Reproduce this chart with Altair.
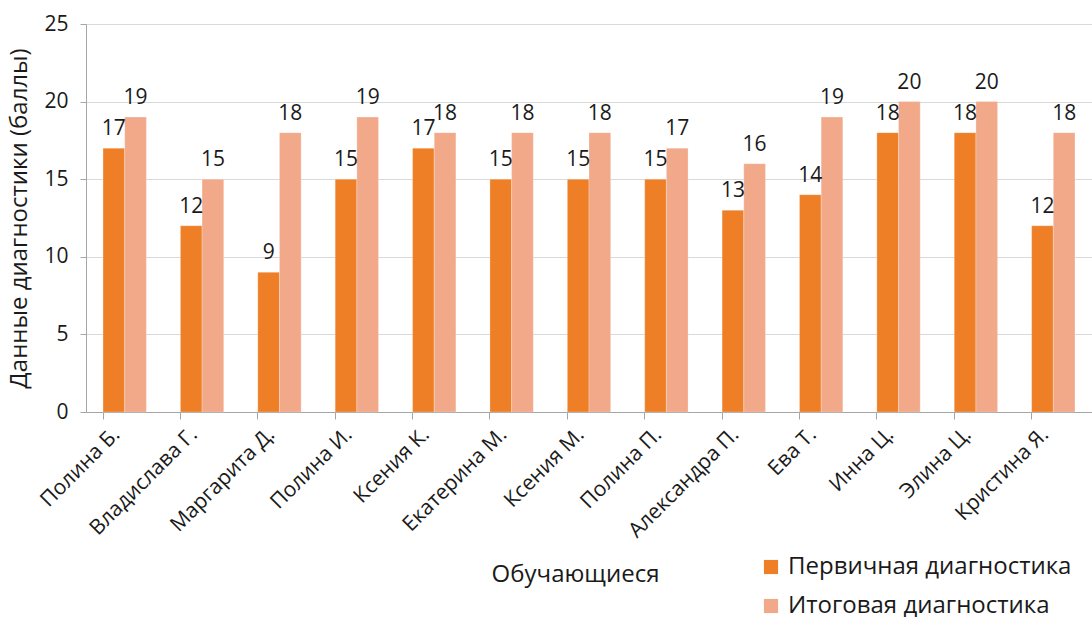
import altair as alt
import pandas as pd

names = ["Полина Б.", "Владислава Г.", "Маргарита Д.", "Полина И.", "Ксения К.",
         "Екатерина М.", "Ксения М.", "Полина П.", "Александра П.", "Ева Т.",
         "Инна Ц.", "Элина Ц.", "Кристина Я."]
primary = [17, 12, 9, 15, 17, 15, 15, 15, 13, 14, 18, 18, 12]
final = [19, 15, 18, 19, 18, 18, 18, 17, 16, 19, 20, 20, 18]
series = ["Первичная диагностика", "Итоговая диагностика"]
colors = ["#EE7F26", "#F1A98A"]

rows = []
for n, p, f in zip(names, primary, final):
    rows.append({"name": n, "series": series[0], "value": p})
    rows.append({"name": n, "series": series[1], "value": f})
df = pd.DataFrame(rows)

FONT = "Open Sans"
TXT = "#1a1a1a"

x = alt.X("name:N", sort=names,
          scale=alt.Scale(paddingInner=0.44, paddingOuter=0.22),
          axis=alt.Axis(title="Обучающиеся", labelAngle=-45, labelAlign="right",
                        labelBaseline="middle", labelPadding=12, labelFontSize=21,
                        labelOffset=-8,
                        bandPosition=0, tickSize=7, tickColor="#a6a6a6",
                        domainColor="#a6a6a6", titleFontSize=24, titleFontWeight="normal",
                        titleX=489, titleY=162, titleBaseline="middle",
                        labelColor=TXT, titleColor=TXT, grid=False, labelLimit=300))
xo = alt.XOffset("series:N", sort=series,
                 scale=alt.Scale(paddingInner=0, paddingOuter=0))
y = alt.Y("value:Q", scale=alt.Scale(domain=[0, 25]),
          axis=alt.Axis(title="Данные диагностики (баллы)", values=[0, 5, 10, 15, 20, 25],
                        labelFontSize=21, titleFontSize=24, titleFontWeight="normal",
                        gridColor="#d9d9d9", domainColor="#a6a6a6", tickColor="#a6a6a6",
                        tickSize=6, labelPadding=12, titlePadding=12,
                        labelColor=TXT, titleColor=TXT))
color = alt.Color("series:N", sort=series,
                  scale=alt.Scale(domain=series, range=colors),
                  legend=alt.Legend(title=None, orient="none", legendX=673, legendY=531,
                                    symbolType="square", symbolSize=200, labelFontSize=24,
                                    labelColor=TXT, rowPadding=15, symbolStrokeWidth=0,
                                    labelOffset=5, labelLimit=400))

bars = alt.Chart(df).mark_bar(stroke="white", strokeWidth=0.5, strokeOpacity=0.5).encode(
    x=x, xOffset=xo, y=y, color=color)
labels = alt.Chart(df).mark_text(baseline="bottom", dy=-9, fontSize=21, color=TXT, font=FONT).encode(
    x=x, xOffset=xo, y=y, text="value:Q")

chart = (bars + labels).properties(
    width=1006, height=388,
    autosize=alt.AutoSizeParams(type="none"),
    padding={"left": 86, "top": 24, "right": 0, "bottom": 205},
).configure(font=FONT).configure_view(stroke=None)

chart.save("out.html", embed_options={"renderer": "svg", "actions": False})
